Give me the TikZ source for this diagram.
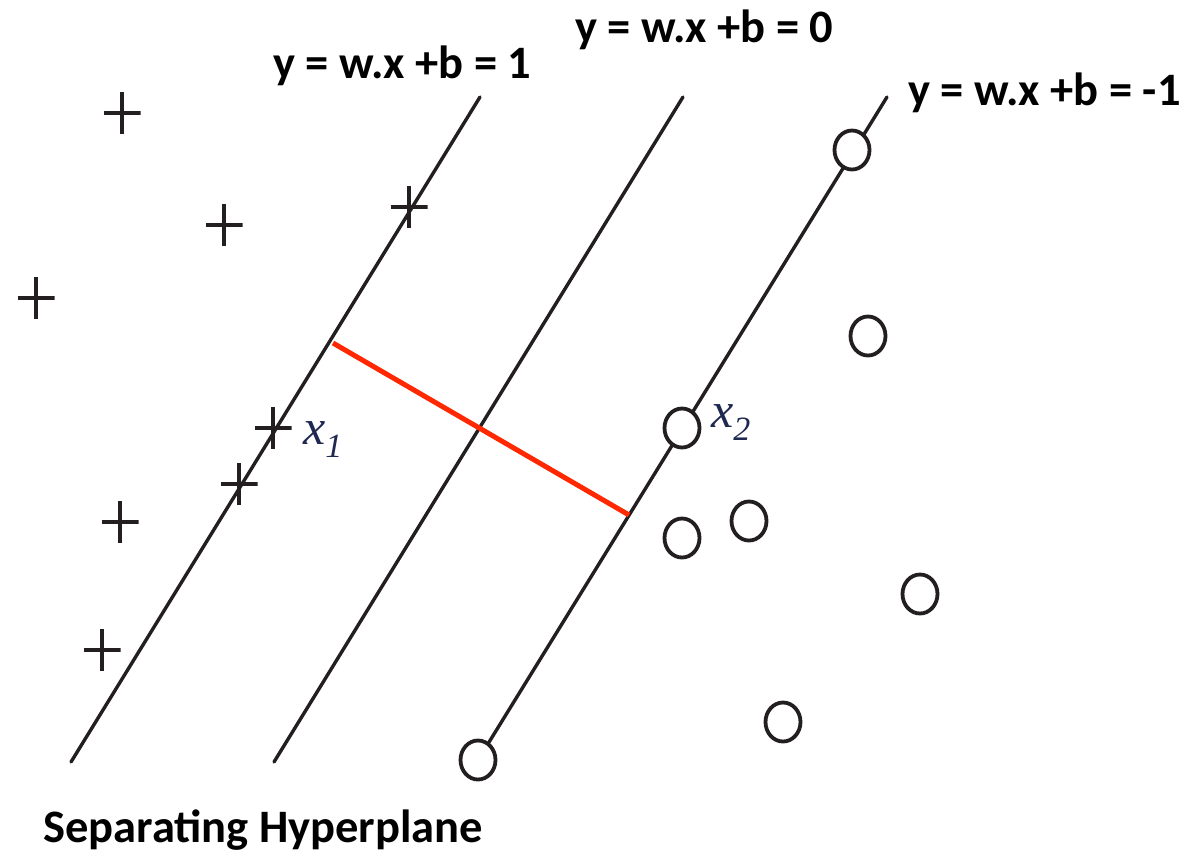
\documentclass[tikz,border=0pt]{standalone}
\usepackage{fontspec}
\setmainfont{Carlito}
\newfontfamily\timesfont{Liberation Serif}
\usetikzlibrary{shapes.geometric}
\definecolor{ink}{RGB}{35,31,32}
\definecolor{redline}{RGB}{255,40,0}
\definecolor{navy}{RGB}{30,40,80}
\tikzset{
  hyper/.style={draw=ink, line width=3.4pt, line cap=round},
  margin/.style={draw=redline, line width=5pt},
  plusmark/.style={rectangle, minimum width=37pt, minimum height=42pt, inner sep=0pt,
    path picture={\draw[ink, line width=3.6pt]
      (path picture bounding box.west) -- (path picture bounding box.east)
      (path picture bounding box.north) -- (path picture bounding box.south);}},
  ringmark/.style={ellipse, draw=ink, fill=white, minimum width=35pt, minimum height=39pt, inner sep=0pt, line width=3.8pt},
  eqlabel/.style={anchor=base west, inner sep=0pt, font=\fontsize{46.5}{50}\selectfont\bfseries},
  ptlabel/.style={anchor=base west, inner sep=0pt, text=navy, font=\timesfont\itshape}
}
\begin{document}
\begin{tikzpicture}[x=1pt,y=-1pt]
\useasboundingbox (0,0) rectangle (1190,854);
% hyperplanes
\coordinate (l1t) at (480,97);
\coordinate (l1b) at (71,762);
\coordinate (l2t) at (683,97);
\coordinate (l2b) at (274,762);
\coordinate (l3t) at (887,97);
\coordinate (l3b) at (478,760);
\coordinate (m1) at (333,343);
\coordinate (m2) at (629,515);
\draw[hyper] (l1t) -- (l1b);
\draw[hyper] (l2t) -- (l2b);
\draw[hyper] (l3t) -- (l3b);
\draw[margin] (m1) -- (m2);
% plus points
\node[plusmark] (p1) at (122,113) {};
\node[plusmark] (p2) at (224,225) {};
\node[plusmark] (p3) at (36,298) {};
\node[plusmark] (p4) at (409,207) {};
\node[plusmark] (p5) at (273,428) {};
\node[plusmark] (p6) at (239,484) {};
\node[plusmark] (p7) at (120,522) {};
\node[plusmark] (p8) at (102,650) {};
% circle points
\node[ringmark] (c1) at (852,150) {};
\node[ringmark] (c2) at (868,336) {};
\node[ringmark] (c3) at (682,428) {};
\node[ringmark] (c4) at (682,538) {};
\node[ringmark] (c5) at (749,521) {};
\node[ringmark] (c6) at (920,594) {};
\node[ringmark] (c7) at (783,722) {};
\node[ringmark] (c8) at (478,760) {};
% point labels
\node[ptlabel] (x1) at (303,444) {\fontsize{50}{50}\selectfont x\raisebox{-13pt}{\fontsize{34}{34}\selectfont 1}};
\node[ptlabel] (x2) at (711,427) {\fontsize{50}{50}\selectfont x\raisebox{-13pt}{\fontsize{34}{34}\selectfont 2}};
% equation labels
\node[eqlabel] (e1) at (273,78) {y = w.x +b = 1};
\node[eqlabel] (e0) at (575,42) {y = w.x +b = 0};
\node[eqlabel] (em) at (908,105) {y = w.x +b = -1};
\node[eqlabel] (title) at (43,842) {Separating Hyperplane};
\end{tikzpicture}
\end{document}
